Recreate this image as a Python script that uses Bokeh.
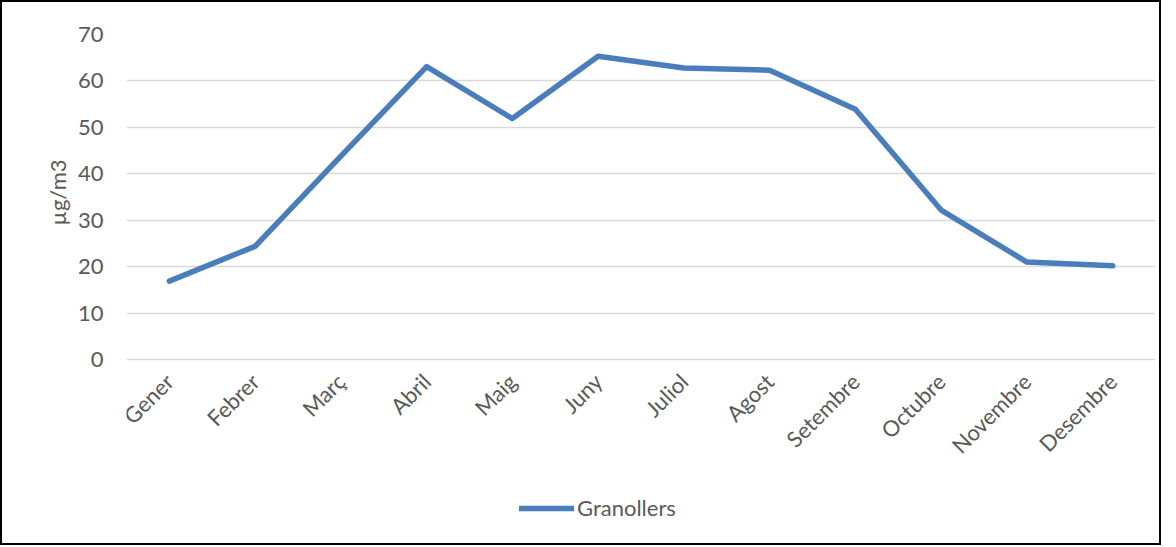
from math import pi
from bokeh.plotting import figure
from bokeh.models import ColumnDataSource, Legend, LegendItem, FixedTicker, Title
from bokeh.embed import file_html
from bokeh.resources import INLINE

months = ["Gener", "Febrer", "Març", "Abril", "Maig", "Juny", "Juliol",
          "Agost", "Setembre", "Octubre", "Novembre", "Desembre"]
granollers = [16.9, 24.4, 43.8, 63.1, 51.9, 65.3, 62.8, 62.3, 53.9, 32.2, 21.0, 20.2]
y_ticks = [0, 10, 20, 30, 40, 50, 60, 70]
series_name = "Granollers"
y_label = "µg/m3"

FONT = "Lato"
TXT = "#595959"
FS = "22px"

src = ColumnDataSource(dict(month=months, value=granollers))

# frame extends below the value axis so the category axis and legend live inside it
p = figure(x_range=months, y_range=(-39.6, 70),
           frame_width=1029, frame_height=509,
           output_backend="svg", toolbar_location=None,
           min_border_left=124, min_border_right=4, min_border_top=32,
           min_border_bottom=0)
p.styles = {"border": "2px solid black", "box-sizing": "border-box"}
p.outline_line_color = None
p.background_fill_color = "white"
p.border_fill_color = "white"

r = p.line("month", "value", source=src, line_color="#4A7EBB", line_width=5.5,
           line_join="round", line_cap="round")

p.xgrid.grid_line_color = None
p.ygrid.grid_line_color = "#D9D9D9"
p.ygrid.grid_line_width = 1.5
p.yaxis.ticker = FixedTicker(ticks=y_ticks)

for ax in (p.xaxis, p.yaxis):
    ax.axis_line_color = None
    ax.major_tick_line_color = None
    ax.minor_tick_line_color = None
    ax.major_tick_out = 0
    ax.major_tick_in = 0
    ax.major_label_text_font = FONT
    ax.major_label_text_color = TXT
    ax.major_label_text_font_size = FS

p.xaxis.fixed_location = 0
p.xaxis.major_label_orientation = pi / 4
p.xaxis.major_label_standoff = 18
p.yaxis.major_label_standoff = 23

ytitle = Title(text=y_label, align="right", offset=125, vertical_align="middle",
               text_font=FONT, text_font_size=FS, text_font_style="normal",
               text_color=TXT, standoff=6)
p.add_layout(ytitle, "left")

legend = Legend(items=[LegendItem(label=series_name, renderers=[r])],
                orientation="horizontal", location=(393, 22),
                glyph_width=55, label_standoff=3, spacing=0,
                label_text_font=FONT, label_text_color=TXT,
                label_text_font_size=FS, border_line_color=None,
                background_fill_alpha=0, margin=0, padding=2)
p.add_layout(legend)

open("out.html", "w").write(file_html(p, INLINE))
